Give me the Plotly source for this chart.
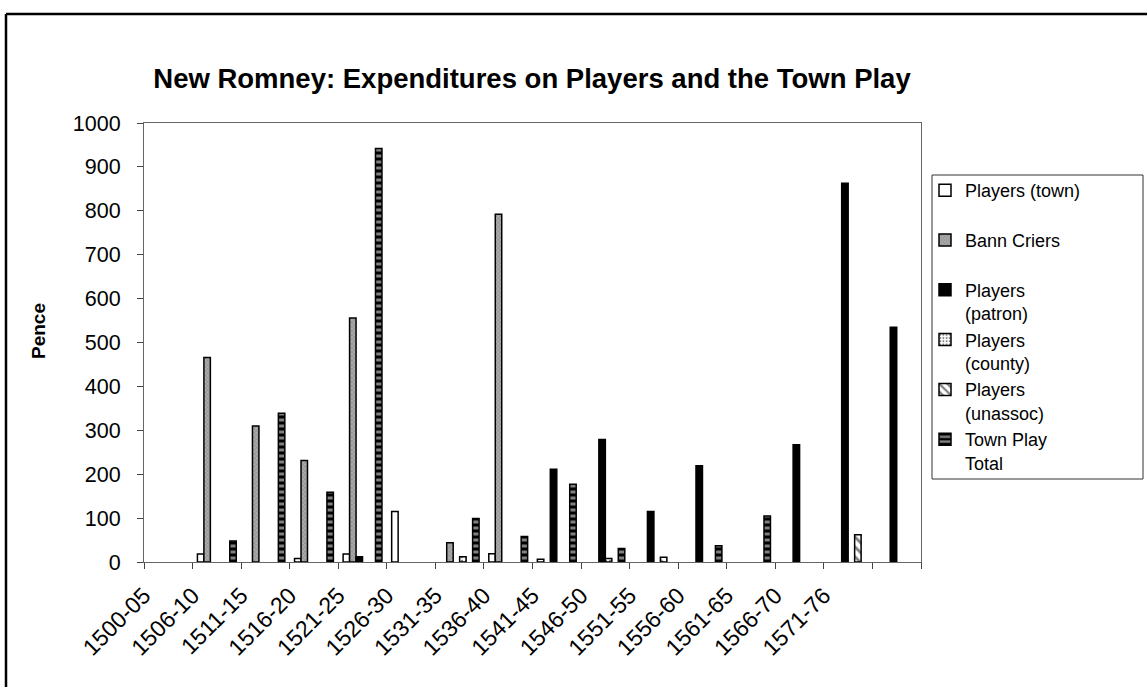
import plotly.graph_objects as go

periods = ["1500-05", "1506-10", "1511-15", "1516-20", "1521-25", "1526-30",
           "1531-35", "1536-40", "1541-45", "1546-50", "1551-55", "1556-60",
           "1561-65", "1566-70", "1571-76"]
n_groups = 16

players_town = [None, 18, None, 8, 18, 115, None, 19, 6, None, None, None, None, None, None, None]
bann_criers = [None, 466, 310, 231, 556, None, 44, 792, None, None, None, None, None, None, None, None]
players_patron = [None, None, None, None, 12, None, None, None, 211, 279, 115, 219, None, 267, 863, 535]
players_county = [None, None, None, None, None, None, 12, None, None, 8, None, None, None, None, None, None]
players_unassoc = [None, None, None, None, None, None, None, None, None, None, 11, None, None, None, 62, None]
town_play = [None, 48, 339, 159, 942, None, 99, 58, 177, 31, None, 37, 105, None, None, None]

x = [i + 0.5 for i in range(n_groups)]

FONT = "Liberation Sans, Arial, sans-serif"

series = [
    ("Players (town)<br> ", players_town, dict(color="white", line=dict(color="black", width=1.5))),
    ("Bann Criers<br> ", bann_criers, dict(color="#999999", line=dict(color="black", width=1.5),
                                        pattern=dict(shape="x", fgcolor="#505050", bgcolor="#ababab", size=3, solidity=0.3))),
    ("Players<br>(patron)", players_patron, dict(color="black", line=dict(color="black", width=1.5))),
    ("Players<br>(county)", players_county, dict(color="white", line=dict(color="black", width=1.5),
                                                pattern=dict(shape=".", fgcolor="black", bgcolor="white", size=4, solidity=0.3))),
    ("Players<br>(unassoc)", players_unassoc, dict(color="white", line=dict(color="black", width=1.5),
                                                  pattern=dict(shape="\\", fgcolor="black", bgcolor="white", size=7, solidity=0.4))),
    ("Town Play<br>Total", town_play, dict(color="black", line=dict(color="black", width=1.5),
                                          pattern=dict(shape="-", fgcolor="white", bgcolor="black", size=6, solidity=0.5))),
]

fig = go.Figure()
for name, vals, marker in series:
    fig.add_trace(go.Bar(x=x, y=vals, name=name, marker=marker))

L, R, T, B = 144, 1147 - 921, 123, 687 - 562
PW, PH = 1147 - L - R, 687 - T - B

def px(v):
    return (v - L) / PW

def py(v):
    return (687 - B - v) / PH

fig.update_layout(
    width=1147, height=687,
    margin=dict(l=L, r=R, t=T, b=B, pad=0),
    paper_bgcolor="white", plot_bgcolor="white",
    barmode="group", bargap=0.2, bargroupgap=0,
    font=dict(family=FONT, size=21, color="black"),
    title=dict(text="<b>New Romney: Expenditures on Players and the Town Play</b>",
               x=px(532), xref="paper", xanchor="center",
               y=1 - 78 / 687, yanchor="middle",
               font=dict(family=FONT, size=27.5, color="black")),
    showlegend=True,
    legend=dict(x=px(925), y=py(172), xanchor="left", yanchor="top",
                borderwidth=0, bgcolor="rgba(0,0,0,0)",
                font=dict(family=FONT, size=18, color="black"),
                valign="top", tracegroupgap=0, itemwidth=30),
    xaxis=dict(range=[0, n_groups], tickmode="array",
               tickvals=list(range(n_groups + 1)),
               ticktext=periods + ["", ""],
               tickangle=-45, ticks="outside", ticklen=6, tickcolor="#444",
               ticklabelstandoff=4,
               showgrid=False, zeroline=False, showline=True, linecolor="#666",
               linewidth=1, mirror=True,
               tickfont=dict(family=FONT, size=23, color="black")),
    yaxis=dict(range=[0, 1000], tickmode="linear", tick0=0, dtick=100,
               ticks="outside", ticklen=6, tickcolor="#444",
               ticklabelstandoff=12,
               showgrid=False, zeroline=False, showline=True, linecolor="#666",
               linewidth=1, mirror=True,
               tickfont=dict(family=FONT, size=21.5, color="black")),
    annotations=[
        dict(text="<b>Pence</b>", xref="paper", yref="paper", x=px(38), y=py(331),
             xanchor="center", yanchor="middle", textangle=-90, showarrow=False,
             font=dict(family=FONT, size=19, color="black")),
    ],
    shapes=[
        dict(type="line", xref="paper", yref="paper", x0=px(6), x1=px(1147), y0=py(14), y1=py(14),
             line=dict(color="black", width=2.5)),
        dict(type="line", xref="paper", yref="paper", x0=px(6), x1=px(6), y0=py(14), y1=py(690),
             line=dict(color="black", width=2.5)),
        dict(type="rect", xref="paper", yref="paper", x0=px(932), x1=px(1143), y0=py(175), y1=py(479),
             line=dict(color="#333", width=1), fillcolor="rgba(0,0,0,0)"),
    ],
)

fig.write_html("out.html")
